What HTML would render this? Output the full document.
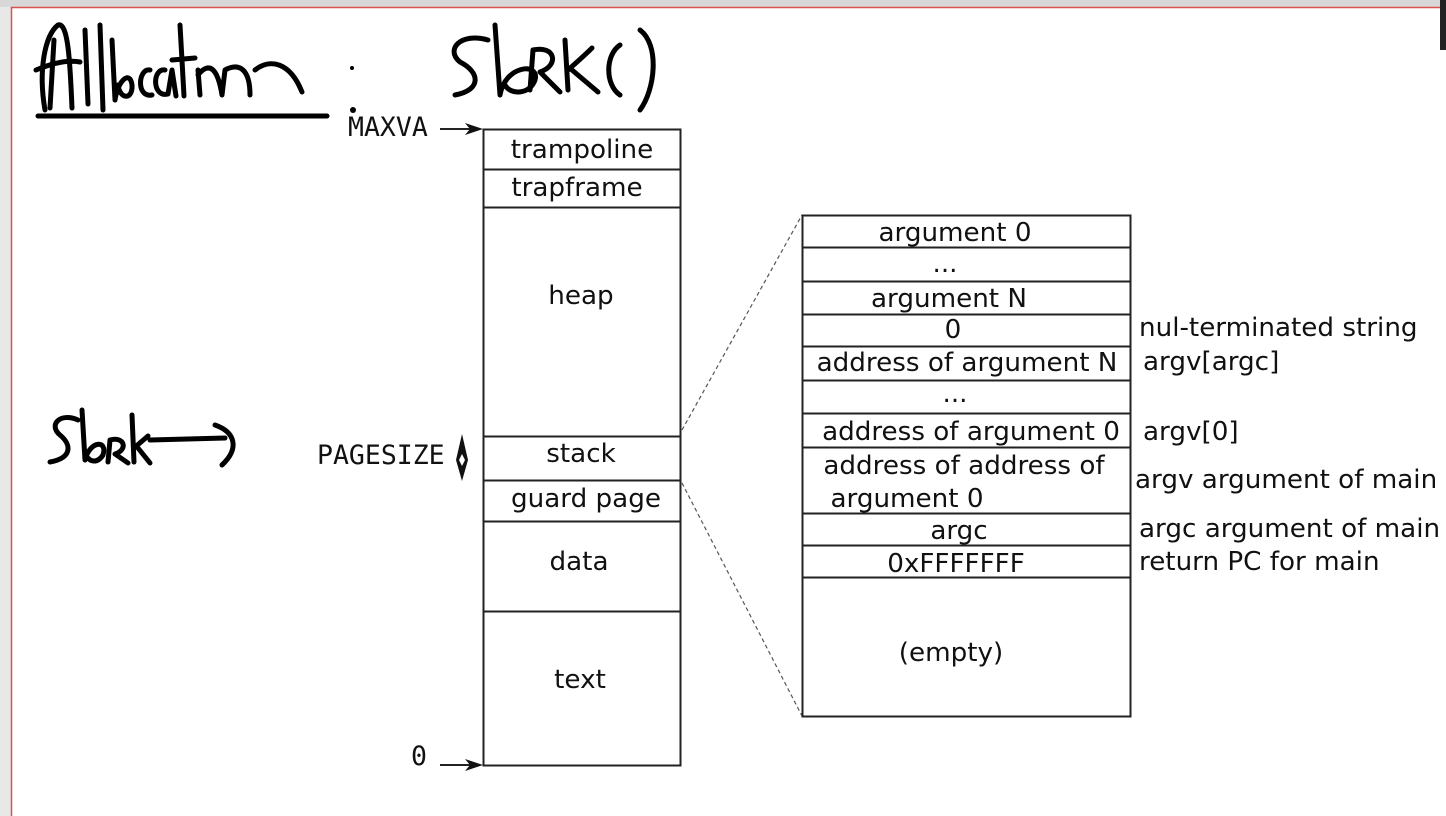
<!DOCTYPE html>
<html><head><style>
body{margin:0;width:1446px;height:816px;overflow:hidden;background:#fff;font-family:"DejaVu Sans","Liberation Sans",sans-serif;}
svg{position:absolute;left:0;top:0}
text{font-family:"DejaVu Sans",sans-serif;font-size:26.2px;fill:#111}
.m{font-family:"DejaVu Sans Mono",monospace;font-size:26.5px}
</style></head><body>
<svg width="1446" height="816" viewBox="0 0 1446 816">
<rect x="0" y="0" width="1446" height="7" fill="#d8d8d8"/>
<rect x="0" y="7" width="11" height="809" fill="#e8e8e8"/>
<line x1="11" y1="7.5" x2="1446" y2="7.5" stroke="#d9534f" stroke-width="1.5"/>
<line x1="11.5" y1="7" x2="11.5" y2="816" stroke="#d9534f" stroke-width="1.5"/>
<rect x="1440" y="0" width="6" height="50" fill="#222"/>
<g fill="none" stroke="#000" stroke-width="5" stroke-linecap="round" stroke-linejoin="round">
<path d="M45 110 C38 70 45 35 58 25 C68 22 70 60 72 108 M36 70 C55 62 70 60 80 62 M54 40 L50 108"/>
<path d="M85 30 L88 104 M100 25 L103 110"/>
<path d="M112 40 L115 100 C118 80 130 70 132 85 C133 100 120 100 118 85 M150 70 C138 68 136 98 152 95 M165 70 C152 68 152 98 168 94 L172 70 L176 96 M180 25 L184 96 M172 60 L195 58 M198 70 L200 95 M198 75 C210 60 218 70 222 95 L225 70 C240 62 250 70 250 95 M255 70 C270 58 290 62 302 92"/>
<line x1="38" y1="116" x2="327" y2="116"/>
<path d="M488 40 C460 32 445 50 460 62 C480 72 482 90 455 95"/>
<path d="M495 25 L500 95 C505 65 540 62 535 80 C530 95 510 95 505 85"/>
<path d="M530 90 L533 50 C555 45 560 65 540 72 L560 92 M565 40 L568 90 M568 70 C585 55 590 50 592 48 M572 70 L598 92"/>
<path d="M620 45 C605 55 605 85 620 95 M640 30 C660 45 655 90 640 110"/>
<path d="M78 420 C60 412 48 425 60 435 C72 445 72 458 50 462"/>
<path d="M82 410 L85 460 C90 440 108 440 103 455 C98 463 90 463 86 455"/>
<path d="M108 462 L110 440 C125 436 128 450 115 454 L128 463 M132 415 L134 462 M134 448 L148 436 M138 448 L150 463"/>
<path d="M150 440 L225 438 M215 425 C235 432 240 448 222 465"/>
</g>
<circle cx="352" cy="68" r="2" fill="#000"/><circle cx="353" cy="110" r="3" fill="#000"/>
<g stroke="#222" stroke-width="2" fill="none">
<rect x="483.5" y="129.5" width="197" height="636"/>
<line x1="483" y1="169.5" x2="680" y2="169.5"/>
<line x1="483" y1="207.5" x2="680" y2="207.5"/>
<line x1="483" y1="436.5" x2="680" y2="436.5"/>
<line x1="483" y1="480.5" x2="680" y2="480.5"/>
<line x1="483" y1="521.5" x2="680" y2="521.5"/>
<line x1="483" y1="611.5" x2="680" y2="611.5"/>
<line x1="440" y1="129" x2="470" y2="129"/>
<line x1="440" y1="765" x2="470" y2="765"/>
</g>
<path d="M483 129 L465 123 L470 129 L465 135Z M483 765 L465 759 L470 765 L465 771Z" fill="#111"/>
<path d="M462 434 L468 460 L462 481 L456 460Z" fill="#111"/><path d="M462 454 L465 460 L462 466 L459 460Z" fill="#fff"/>
<g stroke="#555" stroke-width="1.2" stroke-dasharray="4,3"><line x1="682" y1="430" x2="802" y2="215"/><line x1="682" y1="483" x2="802" y2="716"/></g>
<text class="m" x="348" y="136">MAXVA</text>
<text class="m" x="317" y="464">PAGESIZE</text>
<text class="m" x="411" y="765">0</text>
<g text-anchor="middle">
<text x="582" y="158">trampoline</text>
<text x="577" y="196">trapframe</text>
<text x="581" y="304">heap</text>
<text x="581" y="462">stack</text>
<text x="586" y="507">guard page</text>
<text x="579" y="570">data</text>
<text x="580" y="688">text</text>
</g>
<g stroke="#222" stroke-width="2" fill="none">
<rect x="802.5" y="215.5" width="328" height="501"/>
<line x1="802" y1="247.5" x2="1130" y2="247.5"/>
<line x1="802" y1="281.5" x2="1130" y2="281.5"/>
<line x1="802" y1="314.5" x2="1130" y2="314.5"/>
<line x1="802" y1="346.5" x2="1130" y2="346.5"/>
<line x1="802" y1="380.5" x2="1130" y2="380.5"/>
<line x1="802" y1="413.5" x2="1130" y2="413.5"/>
<line x1="802" y1="447.5" x2="1130" y2="447.5"/>
<line x1="802" y1="513.5" x2="1130" y2="513.5"/>
<line x1="802" y1="545.5" x2="1130" y2="545.5"/>
<line x1="802" y1="577.5" x2="1130" y2="577.5"/>
</g>
<g text-anchor="middle">
<text x="955" y="241">argument 0</text>
<text x="945" y="272">...</text>
<text x="949" y="307">argument N</text>
<text x="953" y="338">0</text>
<text x="967" y="371">address of argument N</text>
<text x="955" y="402">...</text>
<text x="971" y="440">address of argument 0</text>
<text x="964" y="474">address of address of</text>
<text x="907" y="507">argument 0</text>
<text x="959" y="539">argc</text>
<text x="956" y="572">0xFFFFFFF</text>
<text x="951" y="661">(empty)</text>
</g>
<text x="1139" y="336">nul-terminated string</text>
<text x="1143" y="370">argv[argc]</text>
<text x="1143" y="440">argv[0]</text>
<text x="1135" y="488">argv argument of main</text>
<text x="1139" y="537">argc argument of main</text>
<text x="1139" y="570">return PC for main</text>
</svg>
</body></html>
